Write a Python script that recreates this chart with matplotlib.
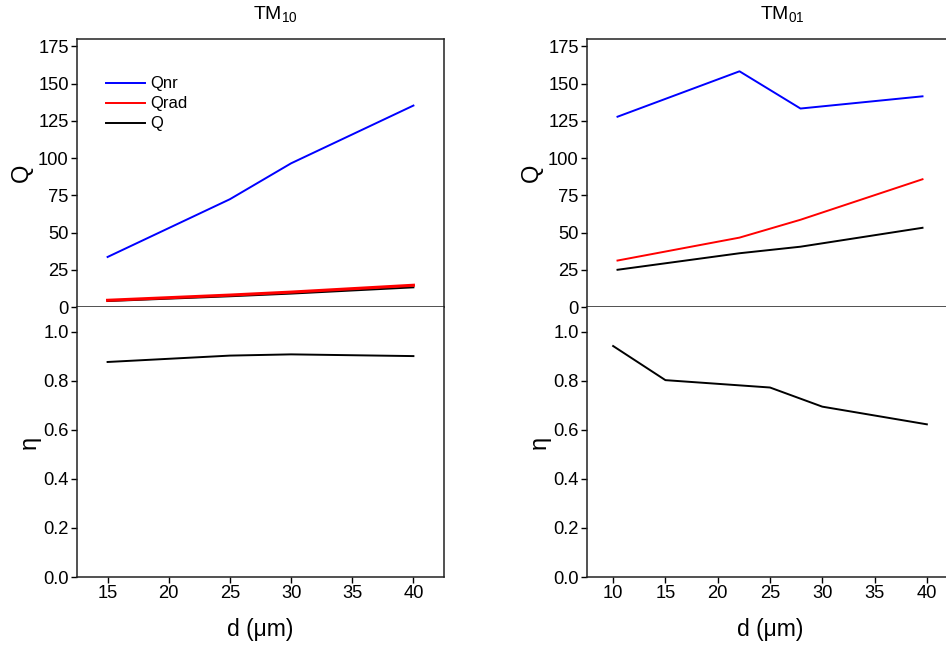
import numpy as np
import matplotlib
matplotlib.use("Agg")
import matplotlib.pyplot as plt

plt.rcParams['font.family'] = ['Liberation Sans', 'DejaVu Sans']
plt.rcParams['mathtext.fontset'] = 'custom'
plt.rcParams['mathtext.rm'] = 'Liberation Sans'

# TM10 data
d_tm10 = [15, 25, 30, 40]
qnr_tm10 = [33.6, 72.4, 96.5, 135.3]
qrad_tm10 = [4.5, 8.0, 10.0, 14.6]
q_tm10 = [4.0, 7.2, 9.0, 13.2]
eta_tm10 = [0.876, 0.902, 0.907, 0.900]

# TM01 data
d_tm01_q = [15, 25, 30, 40]
qnr_tm01 = [127.8, 158.3, 133.3, 141.5]
qrad_tm01 = [31.2, 46.6, 58.6, 85.8]
q_tm01 = [25.0, 36.1, 40.5, 53.2]
d_tm01_eta = [10, 15, 25, 30, 40]
eta_tm01 = [0.941, 0.802, 0.772, 0.694, 0.622]

fig = plt.figure(figsize=(9.46, 6.48), dpi=100)

W, H = 946, 648
def ax_at(x0, y0, x1, y1):
    return fig.add_axes([x0 / W, 1 - y1 / H, (x1 - x0) / W, (y1 - y0) / H])

ax_lt = ax_at(77, 39, 444, 307)
ax_lb = ax_at(77, 307, 444, 577)
ax_rt = ax_at(587, 39, 953, 307)
ax_rb = ax_at(587, 307, 953, 577)

lw = 1.4
ax_lt.plot(d_tm10, qnr_tm10, color='blue', lw=lw, label='Qnr')
ax_lt.plot(d_tm10, q_tm10, color='black', lw=lw, zorder=2)
ax_lt.plot(d_tm10, qrad_tm10, color='red', lw=lw * 1.6, label='Qrad', zorder=3)
ax_lb.plot(d_tm10, eta_tm10, color='black', lw=lw)

ax_rt.plot(d_tm01_q, qnr_tm01, color='blue', lw=lw)
ax_rt.plot(d_tm01_q, qrad_tm01, color='red', lw=lw)
ax_rt.plot(d_tm01_q, q_tm01, color='black', lw=lw)
ax_rb.plot(d_tm01_eta, eta_tm01, color='black', lw=lw)

h = ax_lt.get_lines()
leg = ax_lt.legend([h[0], h[2], h[1]], ['Qnr', 'Qrad', 'Q'],
                   loc='upper left', bbox_to_anchor=(0.062, 0.885), frameon=False,
                   fontsize=12, handlelength=2.3, handletextpad=0.3,
                   labelspacing=0.3, borderaxespad=0)
for l in leg.get_lines():
    l.set_linewidth(lw)

for ax in (ax_lt, ax_rt):
    ax.set_xlim(12.5, 42.5)
    ax.set_ylim(0, 180)
    ax.set_yticks([0, 25, 50, 75, 100, 125, 150, 175])
    ax.set_xticks([15, 20, 25, 30, 35, 40])
    ax.tick_params(axis='x', labelbottom=False)
    ax.set_ylabel('Q', fontsize=17, labelpad=4)

ax_lb.set_xlim(12.5, 42.5)
ax_lb.set_xticks([15, 20, 25, 30, 35, 40])
ax_rb.set_xlim(7.5, 42.5)
ax_rb.set_xticks([10, 15, 20, 25, 30, 35, 40])
for ax in (ax_lb, ax_rb):
    ax.set_ylim(0, 1.1)
    ax.set_yticks([0.0, 0.2, 0.4, 0.6, 0.8, 1.0])
    ax.set_yticklabels(['0.0', '0.2', '0.4', '0.6', '0.8', '1.0'])
    ax.set_ylabel('η', fontsize=17, labelpad=2)
    ax.set_xlabel('d (μm)', fontsize=16.5, labelpad=11)

for ax in (ax_lt, ax_lb, ax_rt, ax_rb):
    ax.tick_params(direction='out', length=4, width=1, labelsize=13.2,
                   top=False, right=False, pad=2)
    for s in ax.spines.values():
        s.set_linewidth(1.1)
        s.set_color('#222222')

ax_lb.spines['top'].set_visible(False)
ax_rb.spines['top'].set_visible(False)

fig.text(275 / W, 1 - 15 / H, 'TM$_{\\mathrm{10}}$', ha='center', va='center', fontsize=14)
fig.text(782 / W, 1 - 15 / H, 'TM$_{\\mathrm{01}}$', ha='center', va='center', fontsize=14)

fig.savefig('out.png', dpi=100)
